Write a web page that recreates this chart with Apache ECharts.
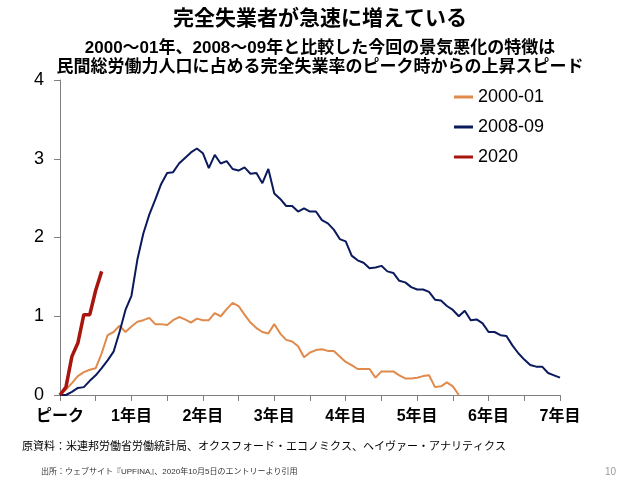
<!DOCTYPE html>
<html>
<head>
<meta charset="utf-8">
<script src="https://cdn.jsdelivr.net/npm/echarts@6/dist/echarts.min.js"></script>
<style>
html,body{margin:0;padding:0;background:#fff;}
#c{width:640px;height:480px;}
</style>
</head>
<body>
<div id="c"></div>
<script>
// ---- data ----
const yearLabels = ['ピーク','1年目','2年目','3年目','4年目','5年目','6年目','7年目'];
const yTicks = [0, 1, 2, 3, 4];
const seriesNames = ['2000-01', '2008-09', '2020'];

const s2000 = [
  0, 0.07, 0.15, 0.24, 0.29, 0.32, 0.34, 0.53, 0.76, 0.80,
  0.88, 0.80, 0.87, 0.93, 0.95, 0.98, 0.90, 0.90, 0.89, 0.95,
  0.99, 0.96, 0.92, 0.97, 0.95, 0.95, 1.04, 1.00, 1.09, 1.17,
  1.13, 1.02, 0.92, 0.85, 0.80, 0.78, 0.90, 0.78, 0.70, 0.68,
  0.62, 0.48, 0.54, 0.57, 0.58, 0.56, 0.56, 0.49, 0.42, 0.38,
  0.33, 0.33, 0.33, 0.22, 0.30, 0.30, 0.30, 0.25, 0.21, 0.21,
  0.22, 0.24, 0.25, 0.10, 0.11, 0.16, 0.11, 0.0
];
const s2008 = [
  0, 0.0, 0.04, 0.09, 0.10, 0.18, 0.25, 0.34, 0.44, 0.55,
  0.80, 1.08, 1.26, 1.72, 2.05, 2.29, 2.48, 2.68, 2.82, 2.83,
  2.94, 3.01, 3.08, 3.13, 3.07, 2.88, 3.05, 2.94, 2.97, 2.87,
  2.85, 2.89, 2.81, 2.82, 2.69, 2.87, 2.56, 2.49, 2.40, 2.40,
  2.33, 2.37, 2.33, 2.33, 2.22, 2.18, 2.10, 1.98, 1.95, 1.77,
  1.71, 1.68, 1.61, 1.62, 1.64, 1.57, 1.55, 1.45, 1.43, 1.37,
  1.34, 1.34, 1.31, 1.21, 1.20, 1.13, 1.08, 1.00, 1.07, 0.95,
  0.96, 0.91, 0.80, 0.80, 0.76, 0.75, 0.63, 0.53, 0.45, 0.38,
  0.36, 0.36, 0.28, 0.25, 0.22
];
const s2020 = [0, 0.10, 0.49, 0.66, 1.02, 1.02, 1.33, 1.57];

const monthCount = 85; // peak + 7 years of months

// ---- build ----
const categories = [];
for (let m = 0; m < monthCount; m++) {
  categories.push(m % 12 === 0 ? yearLabels[m / 12] : String(m));
}

const FONT = '"Liberation Sans", Arial, "Noto Sans CJK JP", sans-serif';
const chart = echarts.init(document.getElementById('c'), null, {renderer: 'canvas'});
chart.setOption({
  animation: false,
  backgroundColor: '#fff',
  title: [
    {text: '完全失業者が急速に増えている', left: 'center', top: 4,
      textStyle: {fontFamily: FONT, fontSize: 21, fontWeight: 'bold', color: '#000'}},
    {text: '2000～01年、2008～09年と比較した今回の景気悪化の特徴は', left: 'center', top: 35,
      textStyle: {fontFamily: FONT, fontSize: 17, fontWeight: 'bold', color: '#000'}},
    {text: '民間総労働力人口に占める完全失業率のピーク時からの上昇スピード', left: 'center', top: 54,
      textStyle: {fontFamily: FONT, fontSize: 17, fontWeight: 'bold', color: '#000'}},
    {text: '原資料：米連邦労働省労働統計局、オクスフォード・エコノミクス、ヘイヴァー・アナリティクス', left: 17, top: 436,
      textStyle: {fontFamily: FONT, fontSize: 11, fontWeight: 'normal', color: '#000'}},
    {text: '出所：ウェブサイト『UPFINA』、2020年10月5日のエントリーより引用', left: 36, top: 463,
      textStyle: {fontFamily: FONT, fontSize: 8, fontWeight: 'normal', color: '#333'}},
    {text: '10', left: 600, top: 462,
      textStyle: {fontFamily: FONT, fontSize: 10, fontWeight: 'normal', color: '#999'}}
  ],
  legend: {
    orient: 'vertical', left: 449, top: 82,
    itemWidth: 19, itemHeight: 3, itemGap: 10,
    icon: 'rect',
    data: seriesNames,
    textStyle: {fontFamily: FONT, fontSize: 18, color: '#000', lineHeight: 20}
  },
  grid: {left: 60, right: 80, top: 80, bottom: 85, containLabel: false},
  xAxis: {
    type: 'category',
    data: categories,
    boundaryGap: false,
    axisLine: {lineStyle: {color: '#808080', width: 1}},
    axisTick: {show: true, interval: 5, length: 6, lineStyle: {color: '#808080'}},
    axisLabel: {
      interval: 11, margin: 14,
      fontFamily: FONT, fontSize: 16, fontWeight: 'bold', color: '#000'
    },
    splitLine: {show: false}
  },
  yAxis: {
    type: 'value', min: yTicks[0], max: yTicks[yTicks.length - 1], interval: 1,
    axisLine: {show: true, lineStyle: {color: '#808080', width: 1}},
    axisTick: {show: true, length: 6, lineStyle: {color: '#808080'}},
    axisLabel: {margin: 16, fontFamily: FONT, fontSize: 18, color: '#000'},
    splitLine: {show: false}
  },
  series: [
    {name: seriesNames[0], type: 'line', data: s2000, symbol: 'none',
      lineStyle: {color: '#e08a4c', width: 2}, itemStyle: {color: '#e08a4c'}},
    {name: seriesNames[1], type: 'line', data: s2008, symbol: 'none',
      lineStyle: {color: '#0b1a5c', width: 2}, itemStyle: {color: '#0b1a5c'}},
    {name: seriesNames[2], type: 'line', data: s2020, symbol: 'none',
      lineStyle: {color: '#a8150f', width: 3.5}, itemStyle: {color: '#a8150f'}}
  ]
});
</script>
</body>
</html>
